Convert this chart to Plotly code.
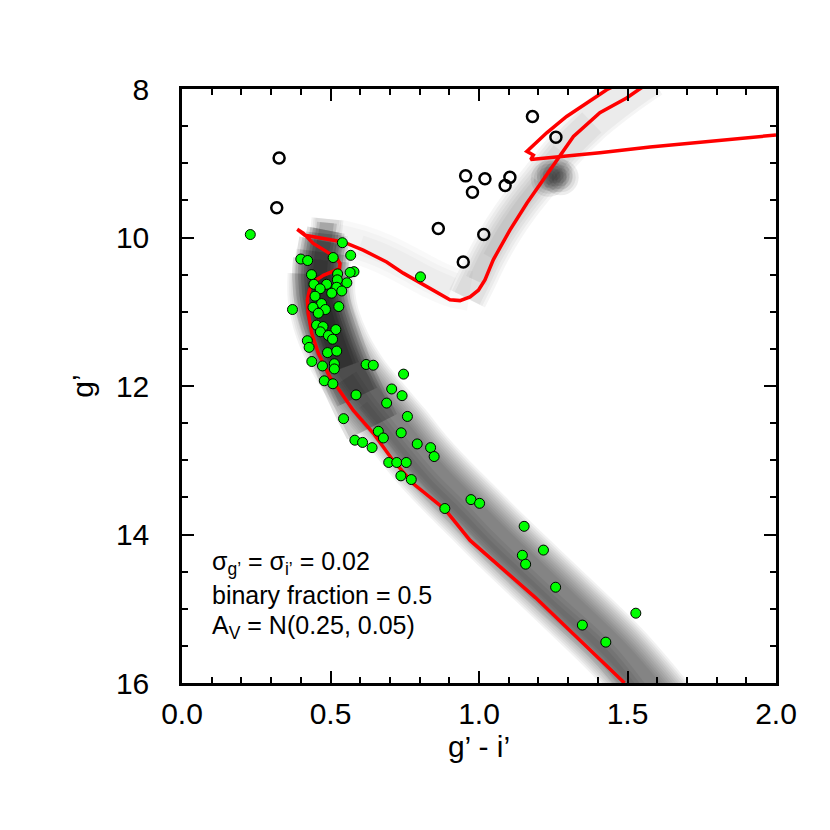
import plotly.graph_objects as go

# --- isochrone (red), main sequence -> turnoff hook -> subgiant -> red giant branch ---
iso_x = [1.49, 1.37, 1.19, 0.97, 0.885, 0.78, 0.71, 0.645, 0.577, 0.52, 0.498, 0.459, 0.437,
         0.425, 0.422, 0.429, 0.442, 0.476, 0.509, 0.53, 0.532, 0.521, 0.487, 0.442, 0.408,
         0.388, 0.414, 0.476, 0.543, 0.61, 0.689, 0.745, 0.902, 0.936, 0.97, 0.998, 1.02,
         1.048, 1.104, 1.161, 1.217, 1.25, 1.318, 1.407, 1.497, 1.537, 1.56]
iso_y = [16.0, 15.54, 14.85, 14.08, 13.66, 13.32, 13.0, 12.64, 12.33, 12.0, 11.88, 11.56, 11.29,
         11.02, 10.84, 10.71, 10.6, 10.51, 10.46, 10.42, 10.35, 10.28, 10.19, 10.08, 9.94,
         9.89, 9.97, 10.01, 10.06, 10.17, 10.33, 10.48, 10.84, 10.85, 10.8, 10.71, 10.57,
         10.3, 9.9, 9.54, 9.22, 9.02, 8.64, 8.32, 8.12, 8.01, 7.95]
# horizontal branch / clump -> asymptotic giant branch
hb_x = [2.0, 1.576, 1.407, 1.26, 1.174, 1.183, 1.161, 1.228, 1.295, 1.43, 1.46]
hb_y = [8.62, 8.78, 8.86, 8.91, 8.95, 8.89, 8.84, 8.59, 8.37, 8.01, 7.95]

# --- observed members (green) ---
green_x = [0.23, 0.54, 0.40, 0.423, 0.509, 0.568, 0.579, 0.566, 0.555, 0.524, 0.523, 0.521,
           0.538, 0.487, 0.504, 0.436, 0.444, 0.465, 0.448, 0.470, 0.483, 0.441, 0.459, 0.372,
           0.528, 0.453, 0.475, 0.466, 0.518, 0.493, 0.507, 0.422, 0.428, 0.490, 0.521, 0.437,
           0.473, 0.513, 0.513, 0.620, 0.644, 0.746, 0.479, 0.508, 0.586, 0.706, 0.741, 0.803,
           0.689, 0.759, 0.544, 0.661, 0.738, 0.678, 0.582, 0.608, 0.640, 0.792, 0.837, 0.849,
           0.696, 0.723, 0.755, 0.737, 0.772, 0.885, 0.973, 1.002, 1.152, 1.146, 1.157, 1.217,
           1.258, 1.348, 1.427, 1.528]
green_y = [9.96, 10.07, 10.29, 10.31, 10.27, 10.24, 10.46, 10.47, 10.61, 10.49, 10.57, 10.67,
           10.72, 10.63, 10.75, 10.50, 10.63, 10.69, 10.79, 10.89, 10.97, 10.94, 11.02, 10.97,
           10.93, 11.18, 11.20, 11.27, 11.24, 11.32, 11.37, 11.39, 11.48, 11.55, 11.53, 11.67,
           11.73, 11.70, 11.77, 11.71, 11.72, 11.84, 11.93, 11.97, 12.12, 12.04, 12.13, 10.53,
           12.23, 12.41, 12.44, 12.61, 12.63, 12.70, 12.73, 12.76, 12.83, 12.78, 12.83, 12.95,
           13.03, 13.03, 13.03, 13.21, 13.26, 13.65, 13.53, 13.58, 13.89, 14.28, 14.40, 14.21,
           14.71, 15.22, 15.45, 15.06]

# --- non-members / evolved stars (open black) ---
open_x = [0.327, 0.319, 0.955, 1.020, 0.978, 1.104, 1.088, 0.863, 1.016, 0.947, 1.180, 1.259]
open_y = [8.93, 9.60, 9.17, 9.21, 9.39, 9.19, 9.30, 9.88, 9.96, 10.33, 8.37, 8.65]

# --- simulated population density ridges (gray) ---
ms_band_x = [1.62, 1.47, 1.29, 1.08, 0.98, 0.88, 0.80, 0.73, 0.655, 0.585, 0.525, 0.485, 0.47, 0.47, 0.478, 0.485, 0.49]
ms_band_y = [16.3, 15.6, 14.9, 14.1, 13.7, 13.3, 12.95, 12.6, 12.25, 11.9, 11.5, 11.1, 10.8, 10.5, 10.2, 9.95, 9.75]
ss_band_x = [1.54, 1.42, 1.23, 1.02, 0.925, 0.825, 0.75, 0.68, 0.61, 0.55]
ss_band_y = [16.2, 15.6, 14.9, 14.1, 13.7, 13.3, 12.95, 12.6, 12.25, 11.9]
to_band_x = [0.64, 0.59, 0.545, 0.505, 0.475, 0.465, 0.468, 0.478, 0.485, 0.488]
to_band_y = [12.55, 12.15, 11.75, 11.3, 10.9, 10.55, 10.3, 10.05, 9.9, 9.8]
sgb_band_x = [0.52, 0.60, 0.68, 0.76, 0.84, 0.91, 0.97]
sgb_band_y = [10.02, 10.1, 10.22, 10.38, 10.55, 10.67, 10.72]
rgb_band_x = [0.96, 0.99, 1.03, 1.08, 1.14, 1.20, 1.28, 1.38, 1.49, 1.58]
rgb_band_y = [10.82, 10.58, 10.25, 9.9, 9.55, 9.25, 8.85, 8.45, 8.1, 7.85]
clump_x = [1.235, 1.275, 1.255]
clump_y = [9.21, 9.19, 9.15]

fig = go.Figure()


def add_band(xs, ys, widths, alpha, trims):
    # stack wide translucent strokes to fake a blurred density;
    # strokes are cut at different points so the ends fade out
    for w, (a, b) in zip(widths, trims):
        fig.add_trace(go.Scatter(
            x=xs[a:len(xs) - b], y=ys[a:len(ys) - b], mode="lines",
            line=dict(color=f"rgba(0,0,0,{alpha})", width=w, shape="spline"),
            hoverinfo="skip", showlegend=False,
        ))


add_band(sgb_band_x, sgb_band_y, [40, 30, 20], 0.025, [(0, 0), (0, 1), (1, 1)])
add_band(rgb_band_x, rgb_band_y, [40, 34, 28, 22, 16, 10], 0.04,
         [(0, 0), (0, 0), (0, 2), (1, 3), (1, 4), (2, 4)])
add_band(ms_band_x, ms_band_y, [68, 64, 60, 56, 52, 48, 44, 40, 36, 32, 28, 24], 0.05,
         [(0, 3), (0, 3), (0, 3), (0, 2), (0, 2), (0, 2), (0, 1), (0, 1), (0, 1), (0, 0), (0, 0), (0, 0)])
add_band(ss_band_x, ss_band_y, [26, 18, 10], 0.06, [(0, 0), (0, 0), (0, 1)])
add_band(to_band_x, to_band_y, [56, 50, 44, 38, 32, 26, 20, 14], 0.12,
         [(0, 3), (0, 2), (1, 2), (1, 1), (2, 1), (2, 1), (2, 0), (3, 0)])

for s in [36, 30, 24, 18, 12]:
    fig.add_trace(go.Scatter(
        x=clump_x, y=clump_y, mode="markers",
        marker=dict(size=s, color="rgba(0,0,0,0.07)", line=dict(width=0)),
        hoverinfo="skip", showlegend=False,
    ))

# isochrone
fig.add_trace(go.Scatter(x=iso_x, y=iso_y, mode="lines",
                         line=dict(color="#ff0000", width=3.5),
                         hoverinfo="skip", showlegend=False))
fig.add_trace(go.Scatter(x=hb_x, y=hb_y, mode="lines",
                         line=dict(color="#ff0000", width=3.5),
                         hoverinfo="skip", showlegend=False))

# stars
fig.add_trace(go.Scatter(x=green_x, y=green_y, mode="markers",
                         marker=dict(size=10, color="#00ff00", line=dict(color="black", width=1)),
                         showlegend=False))
fig.add_trace(go.Scatter(x=open_x, y=open_y, mode="markers",
                         marker=dict(size=11, symbol="circle-open", color="black",
                                     line=dict(color="black", width=2.5)),
                         showlegend=False))

# --- annotation text ---
notes = ["σ<sub>g’</sub> = σ<sub>i’</sub> = 0.02",
         "binary fraction = 0.5",
         "A<sub>V</sub> = N(0.25, 0.05)"]
note_y = [14.39, 14.82, 15.25]
for txt, yy in zip(notes, note_y):
    fig.add_annotation(x=0.095, y=yy, xref="x", yref="y", text=txt, showarrow=False,
                       xanchor="left", yanchor="middle",
                       font=dict(size=25, color="black", family="Liberation Sans, Arial"))

axis_common = dict(
    showline=True, linecolor="black", linewidth=2.5, mirror="ticks",
    ticks="inside", ticklen=12, tickwidth=2, tickcolor="black",
    showgrid=False, zeroline=False,
    tickfont=dict(size=30, color="black"),
    title_font=dict(size=30, color="black"),
)

fig.update_xaxes(range=[0, 2], dtick=0.5, tickformat=".1f",
                 minor=dict(dtick=0.1, ticks="inside", ticklen=6, tickwidth=2, tickcolor="black"),
                 ticklabelstandoff=2,
                 title_text="g’ - i’", title_standoff=2, **axis_common)
fig.update_yaxes(range=[16, 8], dtick=2,
                 minor=dict(dtick=0.5, ticks="inside", ticklen=6, tickwidth=2, tickcolor="black"),
                 ticklabelstandoff=24,
                 title_text="g’", title_standoff=14, **axis_common)

# the page body adds an 8px margin, so the figure is drawn 8px smaller
fig.update_layout(
    width=822, height=822,
    margin=dict(l=174, r=54, t=81, b=147),
    paper_bgcolor="white", plot_bgcolor="white",
    font=dict(family="Liberation Sans, Arial, sans-serif", color="black"),
    showlegend=False,
)

fig.write_html("out.html")
